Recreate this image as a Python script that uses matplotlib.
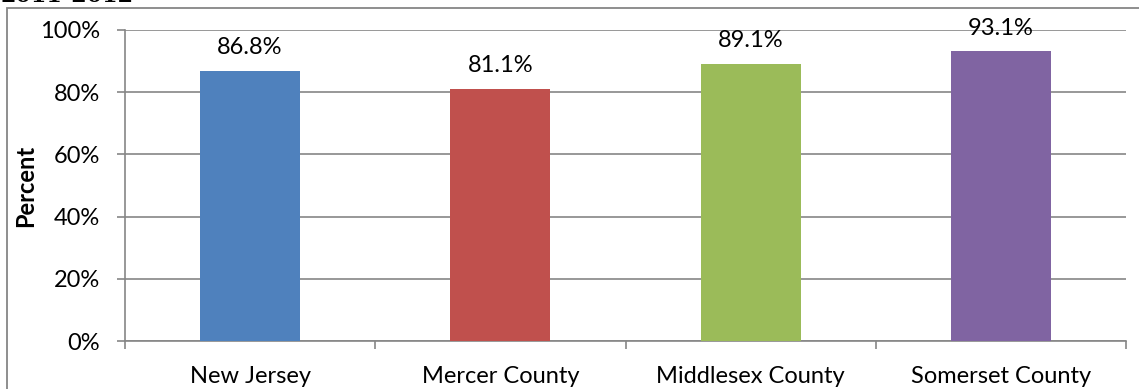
import matplotlib
matplotlib.use("Agg")
import matplotlib.pyplot as plt
from matplotlib.patches import Rectangle
from matplotlib.ticker import FixedLocator, PercentFormatter

categories = ["New Jersey", "Mercer County", "Middlesex County", "Somerset County"]
percent_values = [86.8, 81.1, 89.1, 93.1]
bar_colors = ["#4F81BD", "#C0504D", "#9BBB59", "#8064A2"]
y_ticks = [0, 20, 40, 60, 80, 100]

plt.rcParams["font.family"] = ["Lato", "DejaVu Sans"]

W, H = 1139, 389
fig = plt.figure(figsize=(W / 100, H / 100), dpi=100)

# outer chart frame (runs off the right and bottom edges)
fig.patches.append(Rectangle((7 / W, -0.1), 1.2, 1 - 8 / H + 0.1,
                             transform=fig.transFigure, fill=False,
                             edgecolor="#868686", linewidth=1.3))

# heading that sits just above the frame
fig.text(0 / W, 1 - 2 / H, "2011-2012", family="DejaVu Serif", fontweight="bold",
         fontsize=16, va="baseline", ha="left", color="black")

ax = fig.add_axes([125 / W, 48 / H, (1126 - 125) / W, 311 / H])
x = range(len(categories))
ax.bar(x, percent_values, width=0.4, color=bar_colors, zorder=3)

for xi, v in zip(x, percent_values):
    ax.text(xi, v + 7.5, f"{v:.1f}%", ha="center", va="center", fontsize=17, zorder=4)

ax.set_xlim(-0.5, len(categories) - 0.5)
ax.set_ylim(0, 100)
ax.yaxis.set_major_locator(FixedLocator(y_ticks))
ax.yaxis.set_major_formatter(PercentFormatter(decimals=0))
ax.grid(axis="y", color="#868686", linewidth=1.2, zorder=0)

ax.set_xticks(list(x))
ax.set_xticklabels(categories)
ax.set_xticks([i - 0.5 for i in range(len(categories) + 1)], minor=True)
ax.tick_params(axis="x", which="major", length=0, pad=18, labelsize=17)
ax.tick_params(axis="x", which="minor", length=6, width=1.2, color="#868686", direction="out")
ax.tick_params(axis="y", length=6, width=1.2, color="#868686", pad=12, labelsize=17)

for side in ["top", "right"]:
    ax.spines[side].set_visible(False)
for side in ["left", "bottom"]:
    ax.spines[side].set_color("#868686")
    ax.spines[side].set_linewidth(1.2)

ax.set_ylabel("Percent", fontsize=17, fontweight="bold", labelpad=2)

fig.savefig("out.png", dpi=100)
